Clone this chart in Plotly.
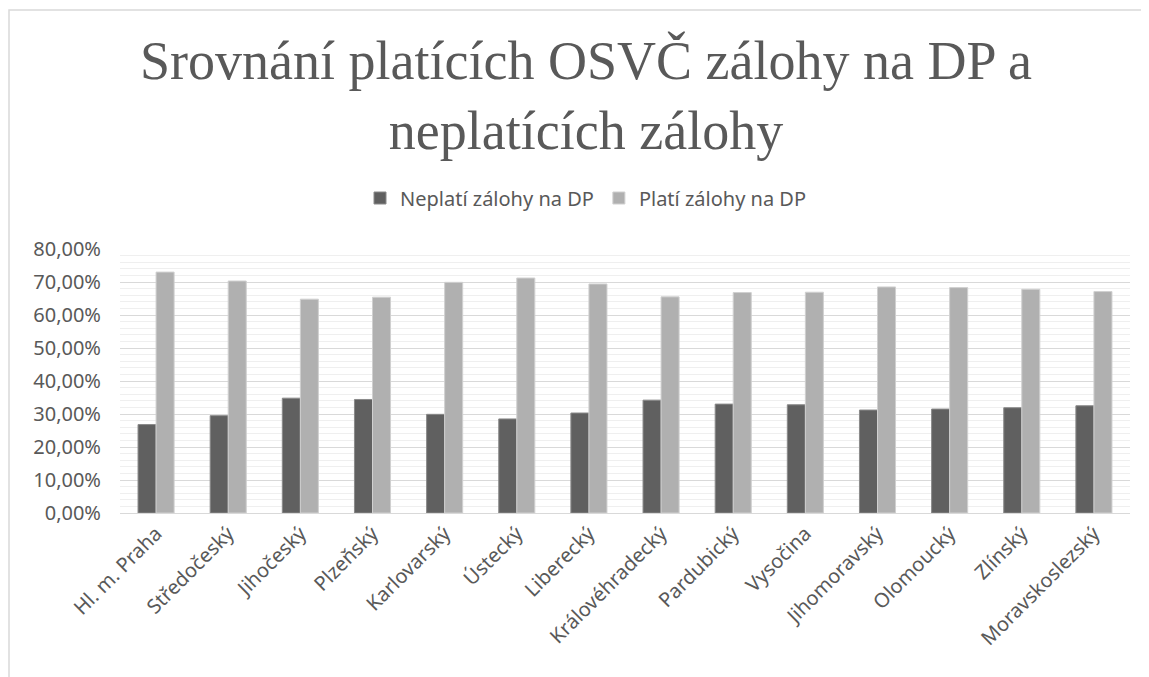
import plotly.graph_objects as go

kraje = ["Hl. m. Praha", "Středočeský", "Jihočeský", "Plzeňský", "Karlovarský", "Ústecký",
         "Liberecký", "Královéhradecký", "Pardubický", "Vysočina", "Jihomoravský",
         "Olomoucký", "Zlínský", "Moravskoslezský"]

neplati = [0.268, 0.295, 0.348, 0.344, 0.299, 0.285, 0.303, 0.342, 0.330, 0.328, 0.312,
           0.315, 0.319, 0.325]
plati = [0.730, 0.703, 0.648, 0.654, 0.699, 0.712, 0.694, 0.655, 0.668, 0.669, 0.685,
         0.683, 0.678, 0.671]

FONT = "Noto Sans"
TITLE_FONT = "Liberation Serif"
TXT = "#595959"

# page body has an 8px margin, so the figure is a bit smaller than the window
W, H = 1141, 669
L, R, T, B = 112, 19, 241, 164
pw = W - L - R
ph = H - T - B
CX_PX = 578  # centre of the chart area (title and legend sit here)

fig = go.Figure()

fig.add_trace(go.Bar(x=kraje, y=neplati, name="Neplatí zálohy na DP",
                     marker_color="#606060", marker_line_color="#8a8a8a", marker_line_width=1))
fig.add_trace(go.Bar(x=kraje, y=plati, name="Platí zálohy na DP",
                     marker_color="#b0b0b0", marker_line_color="#d0d0d0", marker_line_width=1))

# outer chart border like in Excel
fig.add_shape(type="rect", xref="paper", yref="paper",
              x0=(1 - L) / pw, x1=(W + 20 - L) / pw,
              y0=(H - B - H - 20) / ph, y1=(H - B - 2) / ph,
              line_color="#d9d9d9", line_width=1.5, layer="below")

fig.update_layout(
    width=W, height=H,
    margin=dict(l=L, r=R, t=T, b=B, autoexpand=False),
    paper_bgcolor="white", plot_bgcolor="white",
    separators=", ",
    barmode="group", bargap=0.5, bargroupgap=0,
    title=dict(text="Srovnání platících OSVČ zálohy na DP a<br>neplatících zálohy",
               x=CX_PX / W, xref="container", xanchor="center", y=1 - 71 / H, yanchor="middle",
               font=dict(family=TITLE_FONT, size=54, color=TXT)),
    legend=dict(orientation="h", x=(CX_PX - L) / pw, xanchor="center",
                y=1 + 51 / ph, yanchor="middle",
                font=dict(family=FONT, size=20, color=TXT), traceorder="normal"),
    font=dict(family=FONT, color=TXT),
)

fig.update_yaxes(range=[0, 0.8], dtick=0.1, tickformat=".2%",
                 tickfont=dict(family=FONT, size=20, color=TXT), ticklabelstandoff=18,
                 showgrid=True, gridcolor="#d9d9d9", gridwidth=1,
                 minor=dict(dtick=0.02, showgrid=True, gridcolor="#efefef", gridwidth=1),
                 zeroline=False, ticks="", showline=False)
fig.update_xaxes(tickangle=-45, tickfont=dict(family=FONT, size=20, color=TXT),
                 showline=True, linecolor="#d9d9d9", linewidth=1, ticks="")

fig.write_html("out.html")
